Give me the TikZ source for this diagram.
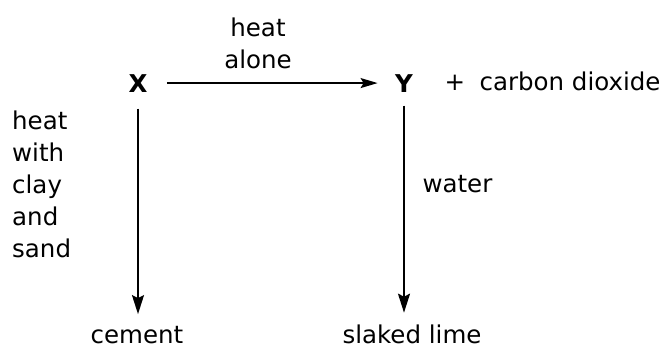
\documentclass[tikz,border=0pt]{standalone}
\usepackage{fontspec}
\setmainfont{DejaVu Sans}
\usepackage{tikz}
\usetikzlibrary{arrows.meta,positioning,calc}

\begin{document}
\begin{tikzpicture}[
    x=1pt, y=-1pt,
    >={Stealth[length=19pt, width=12pt, inset=3pt]},
    sub/.style={font=\fontsize{24.5}{32}\selectfont\bfseries},
    lbl/.style={font=\fontsize{24.5}{32}\selectfont, align=left},
    arr/.style={->, line width=1.8pt},
  ]
  \useasboundingbox (0,0) rectangle (666,351);

  \node[sub, anchor=base] (x) at (138,92) {X};
  \node[sub, anchor=base] (y) at (404,92) {Y};
  \node[lbl, anchor=base] (plus) at (455,90) {+};
  \node[lbl, anchor=base west] (co2) at (476,90) {carbon dioxide};
  \node[lbl, anchor=base, inner sep=1pt] (cement) at (137,343) {cement};
  \node[lbl, anchor=base, inner sep=1pt] (slaked) at (412,343) {slaked lime};

  % conditions
  \node[lbl, align=center, anchor=north] (alone) at (258,14) {heat\\alone};
  \node[lbl, anchor=north west, inner sep=0pt] (clay) at (12,111)
    {heat\\with\\clay\\and\\sand};
  \node[lbl, anchor=base west] (water) at (419,192) {water};

  \draw[arr, line width=1.4pt, >={Stealth[length=17pt, width=10pt, inset=3pt]},
        shorten <=16pt, shorten >=14pt] (x) -- (y);
  \draw[arr, shorten <=13pt, shorten >=10.5pt] (x) -- (x |- cement.north);
  \draw[arr, shorten <=10pt, shorten >=10.5pt] (y) -- (y |- slaked.north);

\end{tikzpicture}
\end{document}
